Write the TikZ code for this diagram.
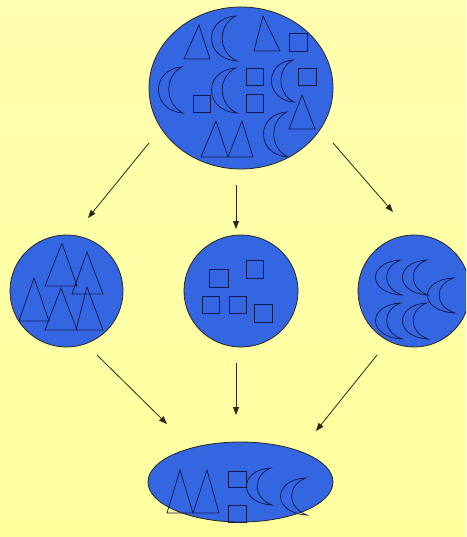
\documentclass[tikz,border=0pt]{standalone}
\usetikzlibrary{arrows.meta,shapes.geometric}
\definecolor{bgtop}{HTML}{FFFFB0}
\definecolor{bgbot}{HTML}{FFFF9E}
\definecolor{blobblue}{HTML}{3566E2}
\definecolor{outl}{HTML}{0F1A55}
\definecolor{arrowc}{HTML}{2A2A12}
\tikzset{
  blob/.style={ellipse, draw=black!85, line width=0.8pt, fill=blobblue, inner sep=0pt},
  shp/.style={draw=outl, line width=0.75pt, line join=miter},
  flow/.style={draw=arrowc, line width=0.8pt, -{Triangle[length=8pt,width=6pt]}},
}
\newcommand\crs[4]{%
  \begin{scope}[shift={(#1,#2)},xscale=#3,yscale=#4]
    \draw[shp] (0.95,0) .. controls (-0.3,0.05) and (-0.3,0.95) .. (1,1)
      .. controls (0.25,0.8) and (0.25,0.2) .. (0.95,0) -- cycle;
  \end{scope}}
\newcommand\tri[5]{\draw[shp] (#1,#2) -- (#4,#5) -- (#3,#5) -- cycle;}
\newcommand\sq[4]{\draw[shp] (#1,#2) rectangle (#3,#4);}
\begin{document}
\begin{tikzpicture}[x=1pt,y=-1pt]
\useasboundingbox (0,0) rectangle (466,537);
\clip (0,0) rectangle (466,537);
\shade[top color=bgtop, bottom color=bgbot] (0,0) rectangle (466,537);

% blobs
\node[blob, minimum width=184pt, minimum height=162pt] (top) at (241,88) {};
\node[blob, minimum width=113pt, minimum height=112pt] (left) at (66.5,291) {};
\node[blob, minimum width=114pt, minimum height=112pt] (mid) at (241,291) {};
\node[blob, minimum width=112pt, minimum height=112pt] (right) at (414,291) {};
\node[blob, minimum width=185pt, minimum height=80pt] (bot) at (240.5,482) {};

% top contents
\tri{199}{25}{184}{210}{59}
\crs{211}{16}{26}{45}
\tri{263}{16}{254}{280}{51}
\sq{289}{33}{307}{51}
\crs{158}{67}{25}{46}
\sq{193}{95}{210}{112}
\crs{211}{68}{26}{45}
\sq{246}{68}{263}{85}
\sq{246}{94}{263}{112}
\crs{271}{60}{23}{42}
\sq{298}{68}{316}{85}
\tri{302}{95}{289}{315}{129}
\crs{263}{112}{25}{45}
\tri{216}{121}{201}{228}{157}
\tri{242}{121}{228}{253}{157}

% left contents
\tri{62}{243}{45}{77}{286}
\tri{87}{252}{72}{103}{294}
\tri{34}{278}{19}{49}{321}
\tri{61}{288}{45}{77}{330}
\tri{87}{287}{76}{103}{330}

% middle contents
\sq{209}{269}{228}{287}
\sq{246}{260}{263}{278}
\sq{202}{296}{219}{313}
\sq{229}{296}{246}{313}
\sq{254}{304}{272}{322}

% right contents
\crs{375}{260}{27}{35}
\crs{402}{260}{26}{35}
\crs{427}{278}{28}{35}
\crs{375}{303}{27}{36}
\crs{402}{303}{26}{36}

% bottom contents
\tri{180}{470}{167}{193}{513}
\tri{207}{470}{193}{219}{513}
\sq{228}{471}{246}{487}
\sq{228}{505}{246}{522}
\crs{246}{468}{26}{37}
\crs{280}{478}{27}{37}

% arrow end points
\coordinate (a1s) at (149,143); \coordinate (a1e) at (88,218);
\coordinate (a2s) at (236,185); \coordinate (a2e) at (236,229);
\coordinate (a3s) at (333,143); \coordinate (a3e) at (393,212);
\coordinate (b1s) at (97,355);  \coordinate (b1e) at (167,424);
\coordinate (b2s) at (236,363); \coordinate (b2e) at (236,415);
\coordinate (b3s) at (377,355); \coordinate (b3e) at (316,431);

\draw[flow] (a1s) -- (a1e);
\draw[flow] (a2s) -- (a2e);
\draw[flow] (a3s) -- (a3e);
\draw[flow] (b1s) -- (b1e);
\draw[flow] (b2s) -- (b2e);
\draw[flow] (b3s) -- (b3e);
\end{tikzpicture}
\end{document}
